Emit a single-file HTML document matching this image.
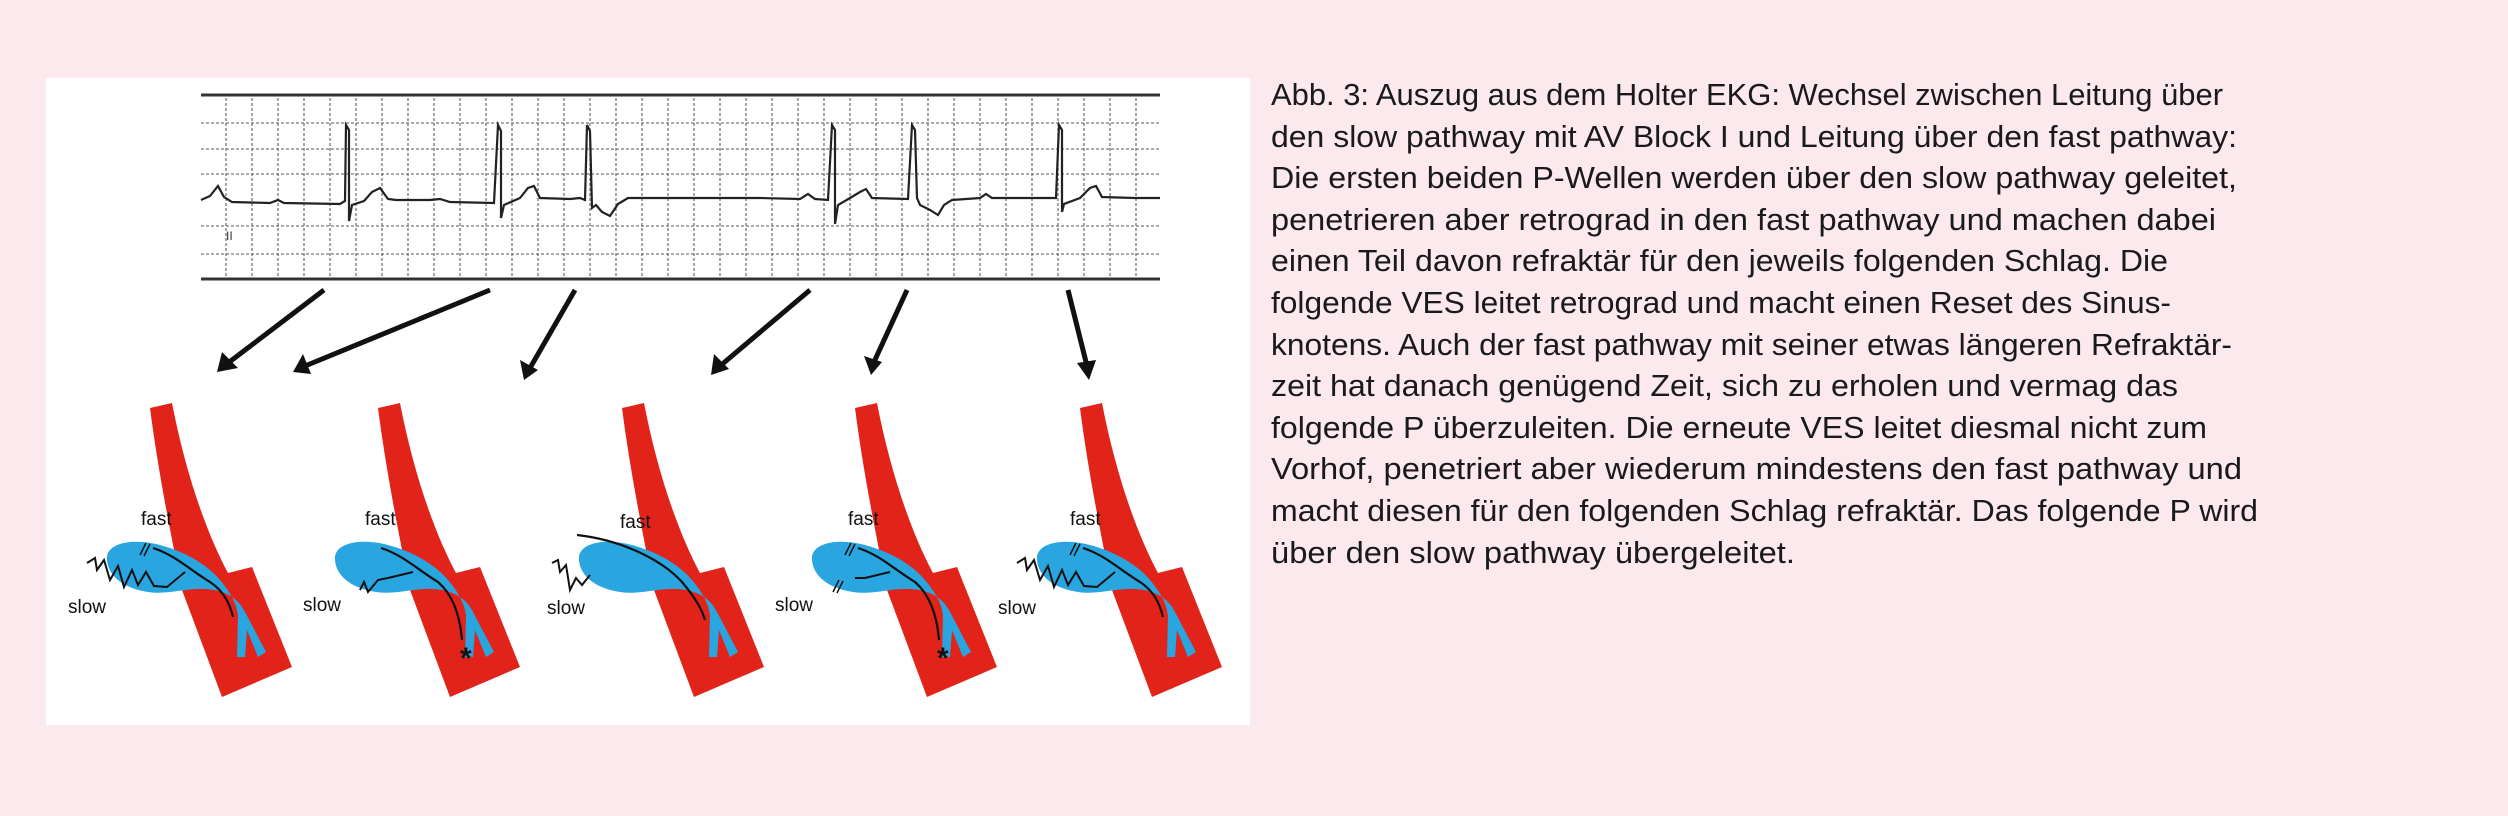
<!DOCTYPE html>
<html><head><meta charset="utf-8"><style>
html,body{margin:0;padding:0;background:#fbe9ed;}
svg{display:block}
</style></head><body>
<svg width="2508" height="816" viewBox="0 0 2508 816" xmlns="http://www.w3.org/2000/svg">
<rect width="2508" height="816" fill="#fbe9ed"/>
<rect x="46" y="78" width="1204" height="647" fill="#ffffff"/>
<g>
<rect x="201" y="94" width="959" height="185" fill="#fff"/>
<g stroke="#777" stroke-width="1.3" stroke-dasharray="3,2">
<line x1="226" y1="98" x2="226" y2="276"/><line x1="252" y1="98" x2="252" y2="276"/><line x1="278" y1="98" x2="278" y2="276"/><line x1="304" y1="98" x2="304" y2="276"/><line x1="330" y1="98" x2="330" y2="276"/><line x1="356" y1="98" x2="356" y2="276"/><line x1="382" y1="98" x2="382" y2="276"/><line x1="408" y1="98" x2="408" y2="276"/><line x1="434" y1="98" x2="434" y2="276"/><line x1="460" y1="98" x2="460" y2="276"/><line x1="486" y1="98" x2="486" y2="276"/><line x1="512" y1="98" x2="512" y2="276"/><line x1="538" y1="98" x2="538" y2="276"/><line x1="564" y1="98" x2="564" y2="276"/><line x1="590" y1="98" x2="590" y2="276"/><line x1="616" y1="98" x2="616" y2="276"/><line x1="642" y1="98" x2="642" y2="276"/><line x1="668" y1="98" x2="668" y2="276"/><line x1="694" y1="98" x2="694" y2="276"/><line x1="720" y1="98" x2="720" y2="276"/><line x1="746" y1="98" x2="746" y2="276"/><line x1="772" y1="98" x2="772" y2="276"/><line x1="798" y1="98" x2="798" y2="276"/><line x1="824" y1="98" x2="824" y2="276"/><line x1="850" y1="98" x2="850" y2="276"/><line x1="876" y1="98" x2="876" y2="276"/><line x1="902" y1="98" x2="902" y2="276"/><line x1="928" y1="98" x2="928" y2="276"/><line x1="954" y1="98" x2="954" y2="276"/><line x1="980" y1="98" x2="980" y2="276"/><line x1="1006" y1="98" x2="1006" y2="276"/><line x1="1032" y1="98" x2="1032" y2="276"/><line x1="1058" y1="98" x2="1058" y2="276"/><line x1="1084" y1="98" x2="1084" y2="276"/><line x1="1110" y1="98" x2="1110" y2="276"/><line x1="1136" y1="98" x2="1136" y2="276"/>
<line x1="201" y1="123" x2="1160" y2="123"/><line x1="201" y1="149" x2="1160" y2="149"/><line x1="201" y1="174" x2="1160" y2="174"/><line x1="201" y1="226" x2="1160" y2="226"/><line x1="201" y1="254" x2="1160" y2="254"/>
</g>
<line x1="201" y1="95" x2="1160" y2="95" stroke="#333" stroke-width="3"/>
<line x1="201" y1="279" x2="1160" y2="279" stroke="#333" stroke-width="3"/>
<polyline fill="none" stroke="#222" stroke-width="2.2" points="201,200 210,196 218,186 224,197 232,202 270,203 278,200 284,203 340,204 345,201 346,125 349,130 349,221 352,205 364,201 372,192 380,188 388,199 396,200 430,200 440,199 450,202 494,203 498,125 501,131 501,218 504,205 520,198 528,188 534,186 540,198 570,199 580,198 585,200 587,125 590,131 592,208 596,205 602,212 610,216 618,204 628,198 700,198 760,198 800,199 808,194 815,199 828,200 832,125 835,130 835,224 838,205 850,198 860,192 866,189 872,198 908,199 912,125 915,130 917,198 920,205 930,210 938,215 944,205 952,200 980,198 986,194 992,198 1056,198 1059,125 1062,130 1062,212 1064,204 1080,198 1090,188 1096,186 1102,197 1135,198 1160,198"/>
<text x="226" y="240" font-family="Liberation Sans, sans-serif" font-size="12" fill="#333">II</text>
</g>
<g stroke="#111" stroke-width="5" fill="#111">
<line x1="324" y1="290" x2="228" y2="363"/><polygon points="217,372 222,352 238,368" stroke="none"/>
<line x1="490" y1="290" x2="305" y2="366"/><polygon points="293,372 303,354 311,374" stroke="none"/>
<line x1="575" y1="290" x2="530" y2="368"/><polygon points="524,380 520,360 538,370" stroke="none"/>
<line x1="810" y1="290" x2="720" y2="366"/><polygon points="711,375 714,354 729,369" stroke="none"/>
<line x1="907" y1="290" x2="874" y2="362"/><polygon points="871,375 864,356 882,362" stroke="none"/>
<line x1="1068" y1="290" x2="1087" y2="366"/><polygon points="1089,380 1077,363 1096,360" stroke="none"/>
</g>
<defs>
<g id="panel">
<path d="M150,408 L172,403 C185,470 205,530 228,573 L252,567 L292,667 L222,697 L182,590 C170,530 158,470 150,408 Z" fill="#e2231a"/>
<path d="M107,560 C105,542 135,538 160,545 C190,553 210,568 220,580 C230,592 236,602 238,615 L237,657 L245,657 L247,630 L258,657 L266,652 L245,612 C238,598 225,590 205,589 C185,588 168,595 148,592 C122,588 108,575 107,560 Z" fill="#29a6e0"/>
</g>
</defs>
<g font-family="Liberation Sans, sans-serif" font-size="19" fill="#111">
<use href="#panel"/>
<polyline points="87,563 95,558 97,570 104,560 110,580 118,566 124,587 132,570 138,585 146,572 154,586 167,587 185,572" fill="none" stroke="#111" stroke-width="2"/>
<path d="M153,548 C175,555 190,570 210,582 C225,592 230,605 233,617" fill="none" stroke="#111" stroke-width="2.2"/>
<line x1="140" y1="555" x2="146" y2="543" stroke="#111" stroke-width="1.5"/><line x1="144" y1="556" x2="150" y2="544" stroke="#111" stroke-width="1.5"/>
<text x="141" y="525">fast</text><text x="68" y="613">slow</text>
</g>
<g font-family="Liberation Sans, sans-serif" font-size="19" fill="#111" transform="translate(228,0)">
<use href="#panel"/>
<polyline points="132,590 136,582 140,592 150,580 160,578 185,572" fill="none" stroke="#111" stroke-width="2"/>
<path d="M153,548 C175,555 190,570 210,582 C225,595 232,615 234,640" fill="none" stroke="#111" stroke-width="2.2"/>
<text x="137" y="525">fast</text><text x="75" y="611">slow</text>
<text x="232" y="668" font-size="30" font-weight="bold">*</text>
</g>
<g font-family="Liberation Sans, sans-serif" font-size="19" fill="#111" transform="translate(472,0)">
<use href="#panel"/>
<polyline points="80,563 86,560 88,572 94,565 98,590 104,578 110,585 118,575" fill="none" stroke="#111" stroke-width="2"/>
<path d="M105,535 C150,540 190,560 210,582 C225,600 230,610 233,620" fill="none" stroke="#111" stroke-width="2.2"/>
<text x="148" y="528">fast</text><text x="75" y="614">slow</text>
</g>
<g font-family="Liberation Sans, sans-serif" font-size="19" fill="#111" transform="translate(705,0)">
<use href="#panel"/>
<polyline points="150,578 160,578 185,572" fill="none" stroke="#111" stroke-width="2"/>
<path d="M153,548 C175,555 190,570 210,582 C225,595 232,615 234,640" fill="none" stroke="#111" stroke-width="2.2"/>
<line x1="140" y1="555" x2="146" y2="543" stroke="#111" stroke-width="1.5"/><line x1="144" y1="556" x2="150" y2="544" stroke="#111" stroke-width="1.5"/>
<line x1="128" y1="592" x2="134" y2="580" stroke="#111" stroke-width="1.5"/><line x1="132" y1="593" x2="138" y2="581" stroke="#111" stroke-width="1.5"/>
<text x="143" y="525">fast</text><text x="70" y="611">slow</text>
<text x="232" y="668" font-size="30" font-weight="bold">*</text>
</g>
<g font-family="Liberation Sans, sans-serif" font-size="19" fill="#111" transform="translate(930,0)">
<use href="#panel"/>
<polyline points="87,563 95,558 97,570 104,560 110,580 118,566 124,587 132,570 138,585 146,572 154,586 167,587 185,572" fill="none" stroke="#111" stroke-width="2"/>
<path d="M153,548 C175,555 190,570 210,582 C225,592 230,605 233,617" fill="none" stroke="#111" stroke-width="2.2"/>
<line x1="140" y1="555" x2="146" y2="543" stroke="#111" stroke-width="1.5"/><line x1="144" y1="556" x2="150" y2="544" stroke="#111" stroke-width="1.5"/>
<text x="140" y="525">fast</text><text x="68" y="614">slow</text>
</g>
<g font-family="Liberation Sans Narrow, Liberation Sans, sans-serif" font-size="31" fill="#1a1a1a">
<text x="1271" y="105" textLength="952" lengthAdjust="spacingAndGlyphs">Abb. 3: Auszug aus dem Holter EKG: Wechsel zwischen Leitung über</text>
<text x="1271" y="147" textLength="966" lengthAdjust="spacingAndGlyphs">den slow pathway mit AV Block I und Leitung über den fast pathway:</text>
<text x="1271" y="188" textLength="966" lengthAdjust="spacingAndGlyphs">Die ersten beiden P-Wellen werden über den slow pathway geleitet,</text>
<text x="1271" y="230" textLength="945" lengthAdjust="spacingAndGlyphs">penetrieren aber retrograd in den fast pathway und machen dabei</text>
<text x="1271" y="271" textLength="897" lengthAdjust="spacingAndGlyphs">einen Teil davon refraktär für den jeweils folgenden Schlag. Die</text>
<text x="1271" y="313" textLength="900" lengthAdjust="spacingAndGlyphs">folgende VES leitet retrograd und macht einen Reset des Sinus-</text>
<text x="1271" y="355" textLength="961" lengthAdjust="spacingAndGlyphs">knotens. Auch der fast pathway mit seiner etwas längeren Refraktär-</text>
<text x="1271" y="396" textLength="907" lengthAdjust="spacingAndGlyphs">zeit hat danach genügend Zeit, sich zu erholen und vermag das</text>
<text x="1271" y="438" textLength="936" lengthAdjust="spacingAndGlyphs">folgende P überzuleiten. Die erneute VES leitet diesmal nicht zum</text>
<text x="1271" y="479" textLength="971" lengthAdjust="spacingAndGlyphs">Vorhof, penetriert aber wiederum mindestens den fast pathway und</text>
<text x="1271" y="521" textLength="987" lengthAdjust="spacingAndGlyphs">macht diesen für den folgenden Schlag refraktär. Das folgende P wird</text>
<text x="1271" y="563" textLength="524" lengthAdjust="spacingAndGlyphs">über den slow pathway übergeleitet.</text>
</g>
</svg>
</body></html>
